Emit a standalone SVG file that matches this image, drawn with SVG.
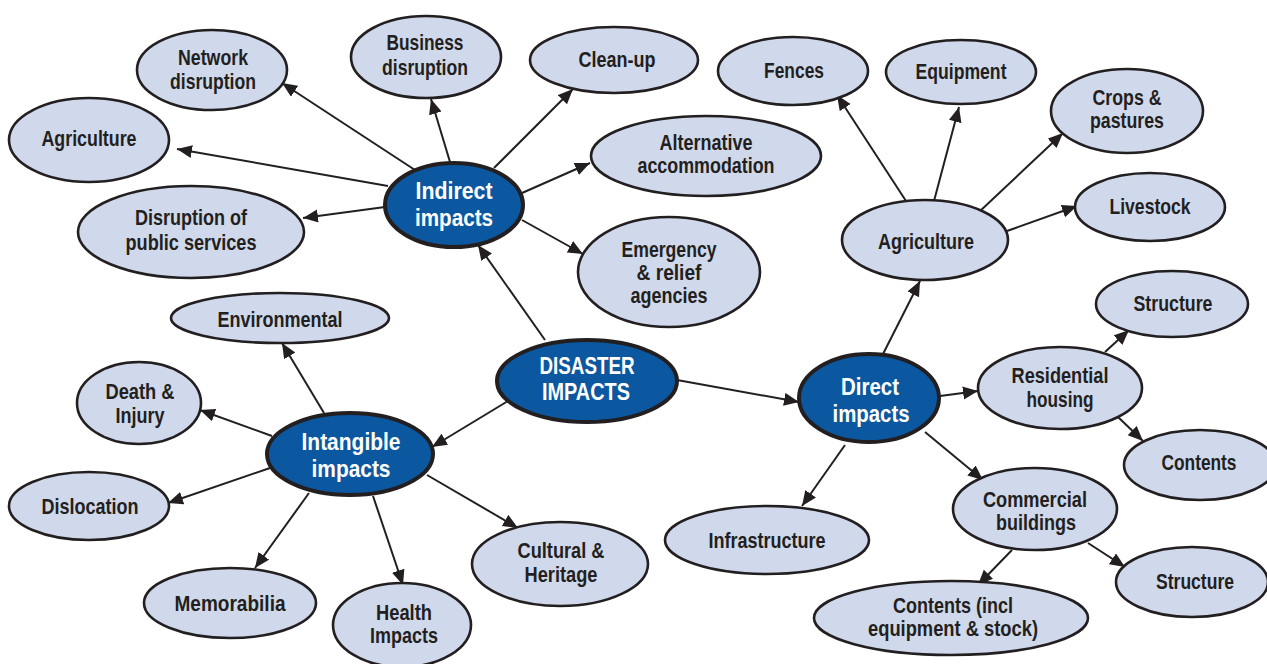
<svg xmlns="http://www.w3.org/2000/svg" width="1267" height="664" viewBox="0 0 1267 664">
<defs>
<marker id="ah" markerUnits="userSpaceOnUse" markerWidth="16" markerHeight="14" refX="15" refY="6.5" orient="auto">
<path d="M0,0 L15,6.5 L0,13 z" fill="#231f20"/>
</marker>
<style>
.lt{fill:#d0d9eb;stroke:#231f20;stroke-width:2.6}
.dk{fill:#0b58a0;stroke:#231f20;stroke-width:4}
.t{font-family:"Liberation Sans",Arial,sans-serif;font-weight:bold;font-size:22px;fill:#231f20;text-anchor:middle}
.tw{font-family:"Liberation Sans",Arial,sans-serif;font-weight:bold;font-size:24.5px;fill:#ffffff;text-anchor:middle}
.c line{stroke:#231f20;stroke-width:2;marker-end:url(#ah)}
</style>
</defs>
<rect width="1267" height="664" fill="#ffffff"/>

<g id="connectors" class="c">
<line x1="415" y1="170" x2="282" y2="83"/>
<line x1="450" y1="162" x2="431" y2="99"/>
<line x1="494" y1="168" x2="573" y2="89"/>
<line x1="388" y1="186" x2="177" y2="149"/>
<line x1="385" y1="207" x2="303" y2="218"/>
<line x1="522" y1="193" x2="590" y2="163"/>
<line x1="522" y1="220" x2="583" y2="254"/>
<line x1="545" y1="340" x2="478" y2="245"/>
<line x1="508" y1="401" x2="432" y2="447"/>
<line x1="677" y1="380" x2="799" y2="402"/>
<line x1="882" y1="356" x2="920" y2="281"/>
<line x1="906" y1="201" x2="837" y2="95"/>
<line x1="934" y1="201" x2="959" y2="107"/>
<line x1="979" y1="212" x2="1063" y2="133"/>
<line x1="1007" y1="231" x2="1077" y2="206"/>
<line x1="940" y1="396" x2="978" y2="391"/>
<line x1="1105" y1="352" x2="1129" y2="330"/>
<line x1="1118" y1="417" x2="1143" y2="441"/>
<line x1="925" y1="432" x2="983" y2="480"/>
<line x1="1088" y1="543" x2="1125" y2="567"/>
<line x1="1012" y1="550" x2="978" y2="585"/>
<line x1="845" y1="445" x2="802" y2="506"/>
<line x1="324" y1="413" x2="282" y2="343"/>
<line x1="272" y1="436" x2="200" y2="410"/>
<line x1="270" y1="468" x2="168" y2="503"/>
<line x1="309" y1="493" x2="255" y2="568"/>
<line x1="373" y1="496" x2="403" y2="585"/>
<line x1="427" y1="475" x2="518" y2="528"/>
</g>

<g id="network-disruption"><ellipse class="lt" cx="212" cy="70" rx="75" ry="40"/><text class="t" x="213" y="65" textLength="70" lengthAdjust="spacingAndGlyphs">Network</text><text class="t" x="213" y="89" textLength="86" lengthAdjust="spacingAndGlyphs">disruption</text></g>
<g id="business-disruption"><ellipse class="lt" cx="426" cy="57" rx="75" ry="41"/><text class="t" x="425" y="50" textLength="77" lengthAdjust="spacingAndGlyphs">Business</text><text class="t" x="425" y="75" textLength="86" lengthAdjust="spacingAndGlyphs">disruption</text></g>
<g id="clean-up"><ellipse class="lt" cx="614" cy="60" rx="84" ry="33"/><text class="t" x="617" y="67" textLength="77" lengthAdjust="spacingAndGlyphs">Clean-up</text></g>
<g id="agriculture-indirect"><ellipse class="lt" cx="89" cy="140" rx="80" ry="42"/><text class="t" x="89" y="146" textLength="95" lengthAdjust="spacingAndGlyphs">Agriculture</text></g>
<g id="alternative-accommodation"><ellipse class="lt" cx="706" cy="156" rx="115" ry="40"/><text class="t" x="706" y="150" textLength="93" lengthAdjust="spacingAndGlyphs">Alternative</text><text class="t" x="706" y="173" textLength="137" lengthAdjust="spacingAndGlyphs">accommodation</text></g>
<g id="disruption-public-services"><ellipse class="lt" cx="191" cy="232" rx="113" ry="46"/><text class="t" x="191" y="225" textLength="112" lengthAdjust="spacingAndGlyphs">Disruption of</text><text class="t" x="191" y="250" textLength="131" lengthAdjust="spacingAndGlyphs">public services</text></g>
<g id="emergency-relief"><ellipse class="lt" cx="669" cy="272" rx="91" ry="55"/><text class="t" x="669" y="257" textLength="95" lengthAdjust="spacingAndGlyphs">Emergency</text><text class="t" x="669" y="280" textLength="65" lengthAdjust="spacingAndGlyphs">&amp; relief</text><text class="t" x="669" y="303" textLength="77" lengthAdjust="spacingAndGlyphs">agencies</text></g>

<g id="fences"><ellipse class="lt" cx="793" cy="71" rx="75" ry="34"/><text class="t" x="794" y="78" textLength="60" lengthAdjust="spacingAndGlyphs">Fences</text></g>
<g id="equipment"><ellipse class="lt" cx="961" cy="72" rx="75" ry="32"/><text class="t" x="961" y="79" textLength="91" lengthAdjust="spacingAndGlyphs">Equipment</text></g>
<g id="crops-pastures"><ellipse class="lt" cx="1127" cy="111" rx="76" ry="42"/><text class="t" x="1127" y="105" textLength="69" lengthAdjust="spacingAndGlyphs">Crops &amp;</text><text class="t" x="1127" y="128" textLength="74" lengthAdjust="spacingAndGlyphs">pastures</text></g>
<g id="livestock"><ellipse class="lt" cx="1150" cy="207" rx="75" ry="34"/><text class="t" x="1150" y="214" textLength="81" lengthAdjust="spacingAndGlyphs">Livestock</text></g>
<g id="agriculture-direct"><ellipse class="lt" cx="925" cy="240" rx="83" ry="40"/><text class="t" x="926" y="249" textLength="96" lengthAdjust="spacingAndGlyphs">Agriculture</text></g>

<g id="structure-residential"><ellipse class="lt" cx="1172" cy="304" rx="76" ry="33"/><text class="t" x="1173" y="311" textLength="79" lengthAdjust="spacingAndGlyphs">Structure</text></g>
<g id="residential-housing"><ellipse class="lt" cx="1060" cy="388" rx="82" ry="41"/><text class="t" x="1060" y="383" textLength="97" lengthAdjust="spacingAndGlyphs">Residential</text><text class="t" x="1060" y="407" textLength="67" lengthAdjust="spacingAndGlyphs">housing</text></g>
<g id="contents-residential"><ellipse class="lt" cx="1200" cy="465" rx="76" ry="35"/><text class="t" x="1199" y="470" textLength="75" lengthAdjust="spacingAndGlyphs">Contents</text></g>
<g id="commercial-buildings"><ellipse class="lt" cx="1035" cy="509" rx="82" ry="41"/><text class="t" x="1035" y="507" textLength="104" lengthAdjust="spacingAndGlyphs">Commercial</text><text class="t" x="1036" y="530" textLength="80" lengthAdjust="spacingAndGlyphs">buildings</text></g>
<g id="structure-commercial"><ellipse class="lt" cx="1192" cy="582" rx="76" ry="35"/><text class="t" x="1195" y="589" textLength="78" lengthAdjust="spacingAndGlyphs">Structure</text></g>
<g id="contents-commercial"><ellipse class="lt" cx="951" cy="618" rx="137" ry="37"/><text class="t" x="953" y="613" textLength="120" lengthAdjust="spacingAndGlyphs">Contents (incl</text><text class="t" x="953" y="636" textLength="170" lengthAdjust="spacingAndGlyphs">equipment &amp; stock)</text></g>
<g id="infrastructure"><ellipse class="lt" cx="767" cy="540" rx="102" ry="34"/><text class="t" x="767" y="548" textLength="117" lengthAdjust="spacingAndGlyphs">Infrastructure</text></g>

<g id="environmental"><ellipse class="lt" cx="280" cy="318" rx="109" ry="25"/><text class="t" x="280" y="327" textLength="125" lengthAdjust="spacingAndGlyphs">Environmental</text></g>
<g id="death-injury"><ellipse class="lt" cx="139" cy="403" rx="62" ry="41"/><text class="t" x="140" y="399" textLength="69" lengthAdjust="spacingAndGlyphs">Death &amp;</text><text class="t" x="140" y="423" textLength="49" lengthAdjust="spacingAndGlyphs">Injury</text></g>
<g id="dislocation"><ellipse class="lt" cx="89" cy="506" rx="80" ry="34"/><text class="t" x="90" y="514" textLength="97" lengthAdjust="spacingAndGlyphs">Dislocation</text></g>
<g id="memorabilia"><ellipse class="lt" cx="230" cy="603" rx="86" ry="35"/><text class="t" x="230" y="611" textLength="111" lengthAdjust="spacingAndGlyphs">Memorabilia</text></g>
<g id="health-impacts"><ellipse class="lt" cx="402" cy="625" rx="69" ry="42"/><text class="t" x="404" y="620" textLength="56" lengthAdjust="spacingAndGlyphs">Health</text><text class="t" x="404" y="643" textLength="68" lengthAdjust="spacingAndGlyphs">Impacts</text></g>
<g id="cultural-heritage"><ellipse class="lt" cx="560" cy="564" rx="88" ry="42"/><text class="t" x="561" y="558" textLength="87" lengthAdjust="spacingAndGlyphs">Cultural &amp;</text><text class="t" x="561" y="582" textLength="73" lengthAdjust="spacingAndGlyphs">Heritage</text></g>

<g id="indirect-impacts"><ellipse class="dk" cx="454" cy="205" rx="69" ry="42"/><text class="tw" x="454" y="199" textLength="77" lengthAdjust="spacingAndGlyphs">Indirect</text><text class="tw" x="454" y="226" textLength="78" lengthAdjust="spacingAndGlyphs">impacts</text></g>
<g id="disaster-impacts"><ellipse class="dk" cx="587" cy="381" rx="90" ry="41"/><text class="tw" x="587" y="374" textLength="95" lengthAdjust="spacingAndGlyphs">DISASTER</text><text class="tw" x="586" y="400" textLength="88" lengthAdjust="spacingAndGlyphs">IMPACTS</text></g>
<g id="intangible-impacts"><ellipse class="dk" cx="350" cy="454" rx="83" ry="41"/><text class="tw" x="351" y="450" textLength="99" lengthAdjust="spacingAndGlyphs">Intangible</text><text class="tw" x="351" y="477" textLength="79" lengthAdjust="spacingAndGlyphs">impacts</text></g>
<g id="direct-impacts"><ellipse class="dk" cx="869" cy="398" rx="70" ry="44"/><text class="tw" x="870" y="395" textLength="58" lengthAdjust="spacingAndGlyphs">Direct</text><text class="tw" x="871" y="422" textLength="77" lengthAdjust="spacingAndGlyphs">impacts</text></g>
</svg>
